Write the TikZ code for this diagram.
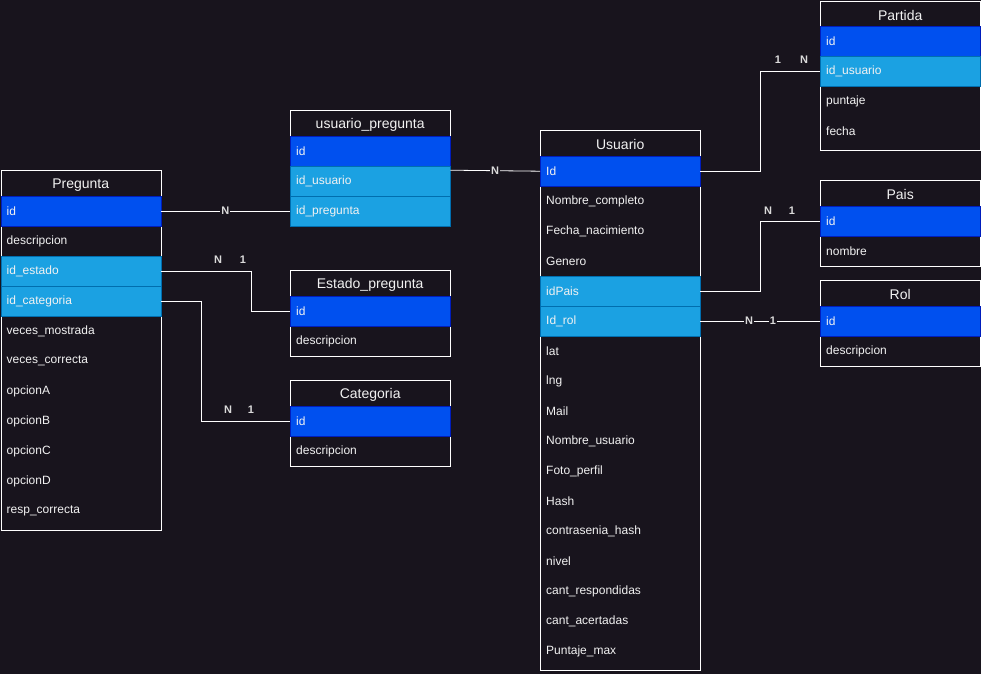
\documentclass[tikz,border=0pt]{standalone}
\usepackage{fontspec}
\setmainfont{Liberation Sans}
\usepackage{xcolor}
\definecolor{fondo}{HTML}{18141D}
\definecolor{pkazul}{HTML}{0050EF}
\definecolor{pkborde}{HTML}{001DBC}
\definecolor{fkazul}{HTML}{1BA1E2}
\definecolor{fkborde}{HTML}{006EAF}
\definecolor{texto}{HTML}{F2F2F2}
\definecolor{etiq}{HTML}{DADADA}
\tikzset{
	tabla/.style={draw=white, line width=1pt, anchor=north west, minimum width=160pt, inner sep=0pt},
	titulo/.style={anchor=north west, minimum width=160pt, minimum height=26pt, inner sep=0pt, yshift=-1.5pt, text=texto, font=\fontsize{14}{16}\selectfont},
	campo/.style={anchor=north west, minimum height=30pt, text width=148pt, inner xsep=6pt, inner ysep=0pt, align=left, text=texto, font=\fontsize{12}{14}\selectfont},
	pk/.style={campo, fill=pkazul, draw=pkborde},
	fk/.style={campo, fill=fkazul, draw=fkborde},
	fld/.style={campo},
	rel/.style={draw=white, line width=0.8pt},
	card/.style={text=etiq, inner sep=1pt, font=\bfseries\fontsize{11}{12}\selectfont},
}

\begin{document}
\begin{tikzpicture}[x=1pt, y=-1pt]
				\fill[fondo] (0,0) rectangle (981,674);
				\useasboundingbox (0,0) rectangle (981,674);
				% tablas
				\node[tabla, minimum height=360pt] (pregunta) at (0.5,170) {};
				\node[titulo] (pregunta-t) at (0.5,170) {Pregunta};
				\foreach \f/\s [count=\i] in {id/pk, descripcion/fld, id\_estado/fk, id\_categoria/fk, veces\_mostrada/fld, veces\_correcta/fld, opcionA/fld, opcionB/fld, opcionC/fld, opcionD/fld, resp\_correcta/fld}
					\node[\s] (preg-\i) at (0.5,{196+30*(\i-1)}) {\f};

				\node[tabla, minimum height=116pt] (upreg) at (290,110) {};
				\node[titulo] (upreg-t) at (290,110) {usuario\_pregunta};
				\foreach \f/\s [count=\i] in {id/pk, id\_usuario/fk, id\_pregunta/fk}
					\node[\s] (upreg-\i) at (290,{136+30*(\i-1)}) {\f};

				\node[tabla, minimum height=86pt] (estado) at (290,270) {};
				\node[titulo] (estado-t) at (290,270) {Estado\_pregunta};
				\foreach \f/\s [count=\i] in {id/pk, descripcion/fld}
					\node[\s] (est-\i) at (290,{296+30*(\i-1)}) {\f};

				\node[tabla, minimum height=86pt] (categoria) at (290,380) {};
				\node[titulo] (categoria-t) at (290,380) {Categoria};
				\foreach \f/\s [count=\i] in {id/pk, descripcion/fld}
					\node[\s] (cat-\i) at (290,{406+30*(\i-1)}) {\f};

				\node[tabla, minimum height=540pt] (usuario) at (540,130) {};
				\node[titulo] (usuario-t) at (540,130) {Usuario};
				\foreach \f/\s [count=\i] in {Id/pk, Nombre\_completo/fld, Fecha\_nacimiento/fld, Genero/fld, idPais/fk, Id\_rol/fk, lat/fld, lng/fld, Mail/fld, Nombre\_usuario/fld, Foto\_perfil/fld, Hash/fld, contrasenia\_hash/fld, nivel/fld, cant\_respondidas/fld, cant\_acertadas/fld, Puntaje\_max/fld}
					\node[\s] (usu-\i) at (540,{156+30*(\i-1)}) {\f};

				\node[tabla, minimum height=149pt] (partida) at (820,1) {};
				\node[titulo] (partida-t) at (820,1) {Partida};
				\foreach \f/\s [count=\i] in {id/pk, id\_usuario/fk, puntaje/fld, fecha/fld}
					\node[\s] (part-\i) at (820,{26+30*(\i-1)}) {\f};

				\node[tabla, minimum height=86pt] (pais) at (820,180) {};
				\node[titulo] (pais-t) at (820,180) {Pais};
				\foreach \f/\s [count=\i] in {id/pk, nombre/fld}
					\node[\s] (pais-\i) at (820,{206+30*(\i-1)}) {\f};

				\node[tabla, minimum height=86pt] (rol) at (820,280) {};
				\node[titulo] (rol-t) at (820,280) {Rol};
				\foreach \f/\s [count=\i] in {id/pk, descripcion/fld}
					\node[\s] (rol-\i) at (820,{306+30*(\i-1)}) {\f};

				% relaciones
				\draw[rel] (preg-1.east) -- (upreg-3.west) node[card, pos=0.5, fill=fondo]{N};
				\draw[rel] ([yshift=11pt]upreg-2.east) -- (usu-1.west) node[card, pos=0.5, fill=fondo]{N};
				\draw[rel] (preg-3.east) -- ++(90,0) |- (est-1.west);
				\draw[rel] (preg-4.east) -- ++(40,0) |- (cat-1.west);
				\draw[rel] (usu-1.east) -- ++(60,0) |- (part-2.west);
				\draw[rel] (usu-5.east) -- ++(60,0) |- (pais-1.west);
				\draw[rel] (usu-6.east) -- (rol-1.west);

				% cardinalidades
				\node[card] (est-n) at (218,260) {N};
				\node[card] (est-1n) at (243,260) {1};
				\node[card] (cat-n) at (228,410) {N};
				\node[card] (cat-1n) at (251,410) {1};
				\node[card] (part-1n) at (778,60) {1};
				\node[card] (part-n) at (804,60) {N};
				\node[card] (pais-n) at (768,211) {N};
				\node[card] (pais-1n) at (792,211) {1};
				\node[card, fill=fondo] (rol-n) at (749,321) {N};
				\node[card, fill=fondo] (rol-1n) at (773,321) {1};
			\end{tikzpicture}
\end{document}
